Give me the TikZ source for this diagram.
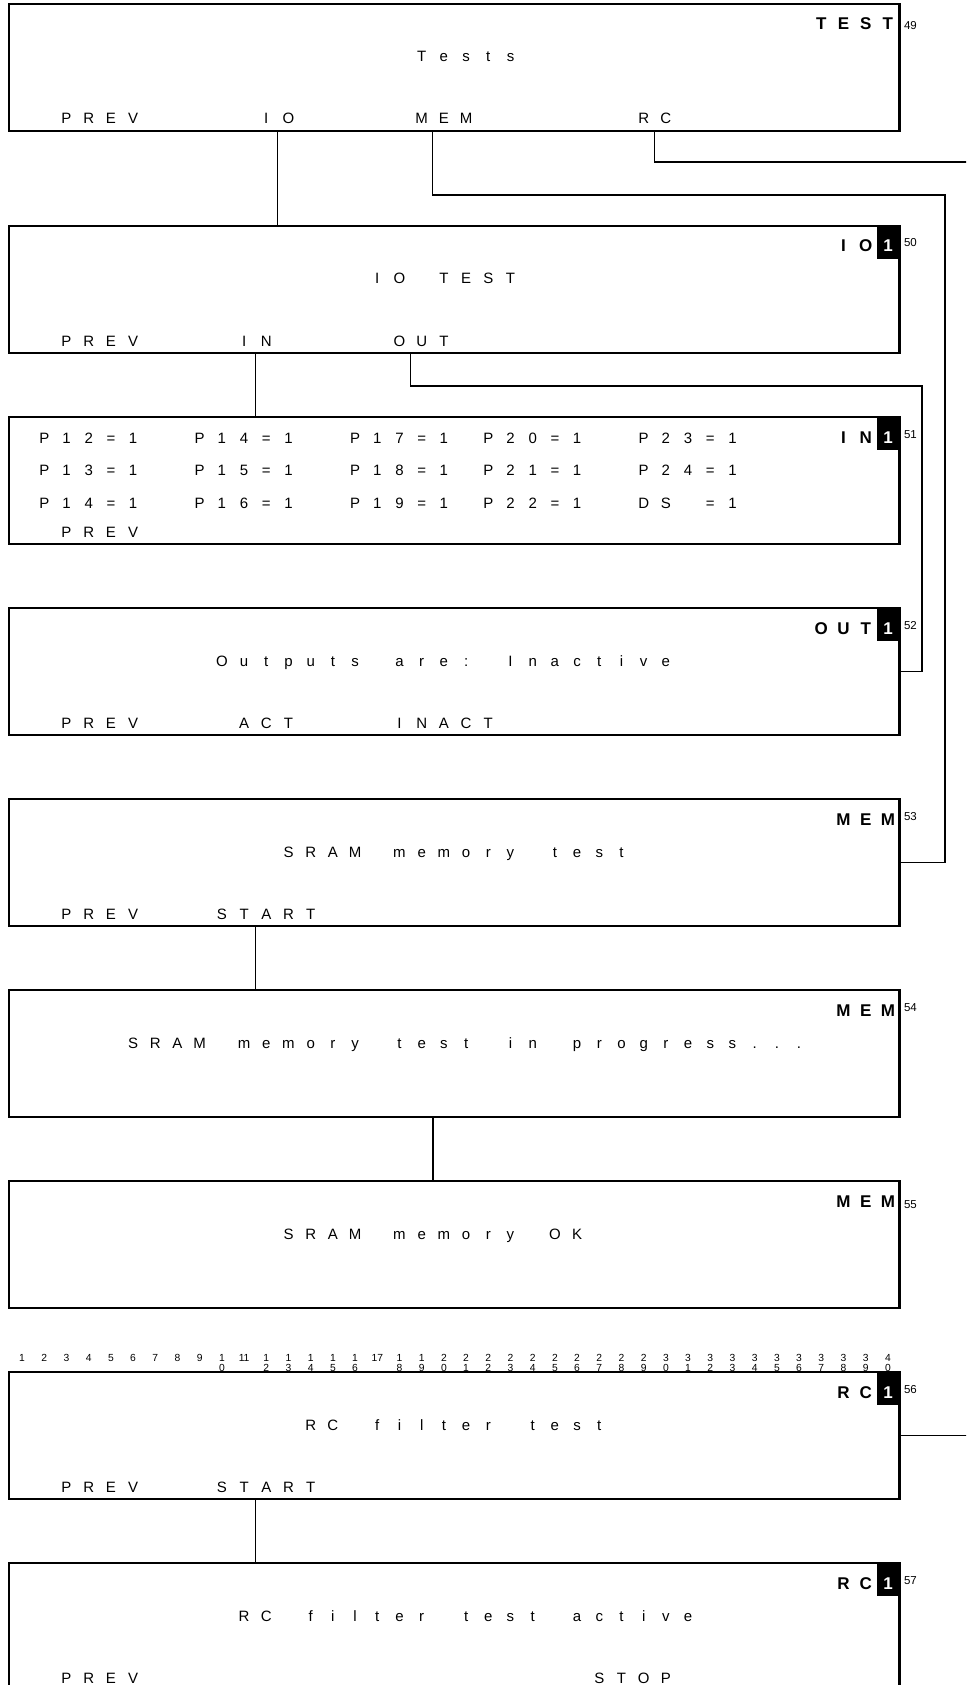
\documentclass[tikz,border=0pt]{standalone}
\usepackage{fontspec}
\setmainfont{Liberation Sans}
\usetikzlibrary{calc}
\ExplSyntaxOn
\NewDocumentCommand\lcd{m}{\str_map_inline:nn {#1} {\makebox[22.2pt][c]{##1}}}
\ExplSyntaxOff
% text in the 40-column grid: [style]{name}{column}{baseline}{text}
\newcommand\lcdtxt[5][txt]{\node[#1] (#2) at ({11+(#3-1)*22.2},#4) {\lcd{#5}};}
% a screen box: {name}{top}
\newcommand\screen[2]{\node[lcdbox] (#1) at (8.5,#2) {};}
\newcommand\rim[1]{\draw[rimline] (#1.north east) -- (#1.south east);}
\tikzset{
  lcdbox/.style={draw, line width=2pt, minimum width=891pt, minimum height=127pt,
    inner sep=0pt, outer sep=0pt, anchor=north west},
  rimline/.style={line width=3pt},
  txt/.style={inner sep=0pt, outer sep=0pt, anchor=base west, font=\fontsize{15pt}{18pt}\selectfont},
  lbl/.style={txt, font=\fontsize{17pt}{20pt}\selectfont\bfseries},
  blk/.style={fill=black, draw=none, inner sep=0pt, outer sep=0pt, minimum width=23pt,
    minimum height=33pt, anchor=north east},
  inv/.style={inner sep=0pt, outer sep=0pt, anchor=base, text=white,
    font=\fontsize{17pt}{20pt}\selectfont\bfseries},
  pg/.style={inner sep=0pt, outer sep=0pt, anchor=base west, font=\fontsize{11.5pt}{13pt}\selectfont},
  rul/.style={inner sep=0pt, outer sep=0pt, anchor=base, font=\fontsize{10.3pt}{12pt}\selectfont},
  conn/.style={line width=1.3pt}
}
\begin{document}
\begin{tikzpicture}[x=1pt,y=-1pt]
\path[use as bounding box] (0,0) rectangle (966,1685);
\clip (0,0) rectangle (966,1685);

% ruler above RC box
\foreach \n in {1,...,9,11,17} {
  \node[rul] (r\n) at ({22.1+(\n-1)*22.2},1361.5) {\n};
}
\foreach \n in {10,12,13,14,15,16,18,19,20,21,22,23,24,25,26,27,28,29,30,31,32,33,34,35,36,37,38,39,40} {
  \pgfmathtruncatemacro\tens{floor(\n/10)}
  \pgfmathtruncatemacro\units{mod(\n,10)}
  \node[rul] (r\n a) at ({22.1+(\n-1)*22.2},1361.5) {\tens};
  \node[rul] (r\n b) at ({22.1+(\n-1)*22.2},1371.5) {\units};
}

% boxes
\screen{b1}{4}
\screen{b2}{226}
\screen{b3}{417}
\screen{b4}{608}
\screen{b5}{799}
\screen{b6}{990}
\screen{b7}{1181}
\screen{b8}{1372}
\screen{b9}{1563}

% black marker blocks with inverted 1
\foreach \b/\t in {b2/226,b3/417,b4/608,b8/1372,b9/1563} {
  \node[blk] (k\b) at (\b.north east) {};
  \node[inv] (i\b) at (888,\t+26) {1};
}

% box 1
\lcdtxt[lbl]{l1}{37}{30}{TEST}
\node[pg] (n49) at (904,30) {49};
\lcdtxt{t1a}{19}{62}{Tests}
\lcdtxt{t1prev}{3}{124}{PREV}
\lcdtxt{t1io}{12}{124}{IO}
\lcdtxt{t1mem}{19}{124}{MEM}
\lcdtxt{t1rc}{29}{124}{RC}

% box 2
\lcdtxt[lbl]{l2}{38}{252}{IO}
\node[pg] (n50) at (904,247) {50};
\lcdtxt{t2a}{17}{284}{IO TEST}
\lcdtxt{t2prev}{3}{346}{PREV}
\lcdtxt{t2in}{11}{346}{IN}
\lcdtxt{t2out}{18}{346}{OUT}

% box 3
\lcdtxt[lbl]{l3}{38}{443}{IN}
\node[pg] (n51) at (904,438) {51};
\lcdtxt{p12}{2}{443}{P12=1}
\lcdtxt{p14}{9}{443}{P14=1}
\lcdtxt{p17}{16}{443}{P17=1}
\lcdtxt{p20}{22}{443}{P20=1}
\lcdtxt{p23}{29}{443}{P23=1}
\lcdtxt{p13}{2}{475}{P13=1}
\lcdtxt{p15}{9}{475}{P15=1}
\lcdtxt{p18}{16}{475}{P18=1}
\lcdtxt{p21}{22}{475}{P21=1}
\lcdtxt{p24}{29}{475}{P24=1}
\lcdtxt{p14b}{2}{508}{P14=1}
\lcdtxt{p16}{9}{508}{P16=1}
\lcdtxt{p19}{16}{508}{P19=1}
\lcdtxt{p22}{22}{508}{P22=1}
\lcdtxt{pds}{29}{508}{DS =1}
\lcdtxt{t3prev}{3}{537}{PREV}

% box 4
\lcdtxt[lbl]{l4}{37}{634}{OUT}
\node[pg] (n52) at (904,629) {52};
\lcdtxt{t4a}{10}{666}{Outputs are: Inactive}
\lcdtxt{t4prev}{3}{728}{PREV}
\lcdtxt{t4act}{11}{728}{ACT}
\lcdtxt{t4inact}{18}{728}{INACT}

% box 5
\lcdtxt[lbl]{l5}{38}{825}{MEM}
\node[pg] (n53) at (904,820) {53};
\lcdtxt{t5a}{13}{857}{SRAM memory test}
\lcdtxt{t5prev}{3}{919}{PREV}
\lcdtxt{t5start}{10}{919}{START}

% box 6
\lcdtxt[lbl]{l6}{38}{1016}{MEM}
\node[pg] (n54) at (904,1011) {54};
\lcdtxt{t6a}{6}{1048}{SRAM memory test in progress...}

% box 7
\lcdtxt[lbl]{l7}{38}{1207}{MEM}
\node[pg] (n55) at (904,1208) {55};
\lcdtxt{t7a}{13}{1239}{SRAM memory OK}

% box 8
\lcdtxt[lbl]{l8}{38}{1398}{RC}
\node[pg] (n56) at (904,1393) {56};
\lcdtxt{t8a}{14}{1430}{RC filter test}
\lcdtxt{t8prev}{3}{1492}{PREV}
\lcdtxt{t8start}{10}{1492}{START}

% box 9
\lcdtxt[lbl]{l9}{38}{1589}{RC}
\node[pg] (n57) at (904,1584) {57};
\lcdtxt{t9a}{11}{1621}{RC filter test active}
\lcdtxt{t9prev}{3}{1683}{PREV}
\lcdtxt{t9stop}{27}{1683}{STOP}

% thick right rims
\foreach \b in {b1,b2,b3,b4,b5,b6,b7,b8,b9} { \rim{\b} }

% connector anchor points
\path (t1io.base west) ++(22.2,0) coordinate (cio);
\path (t1mem.base west) ++(22.2,0) coordinate (cmem);
\path (t1rc.base west) ++(22.2,0) coordinate (crc);
\path (t2in.base west) ++(22.2,0) coordinate (cin);
\path (t2out.base west) ++(22.2,0) coordinate (cout);
\path (t5start.base west) ++(44.4,0) coordinate (cst5);
\path (t8start.base west) ++(44.4,0) coordinate (cst8);
\coordinate (c67) at (433,0);
\coordinate (memR) at (945,195);
\coordinate (rcR) at (970,162);
\coordinate (outR) at (922,386);
\coordinate (rcR2) at (970,0);

% connectors
\draw[conn] (b1.south -| cio) -- (b2.north -| cio);
\draw[conn] (b1.south -| cmem) |- (memR) |- (b5.east);
\draw[conn] (b1.south -| crc) |- (rcR);
\draw[conn] (b2.south -| cin) -- (b3.north -| cin);
\draw[conn] (b2.south -| cout) |- (outR) |- (b4.east);
\draw[conn] (b5.south -| cst5) -- (b6.north -| cst5);
\draw[conn] (b6.south -| c67) -- (b7.north -| c67);
\draw[conn] (b8.east) -- (b8.east -| rcR2);
\draw[conn] (b8.south -| cst8) -- (b9.north -| cst8);
\end{tikzpicture}
\end{document}
